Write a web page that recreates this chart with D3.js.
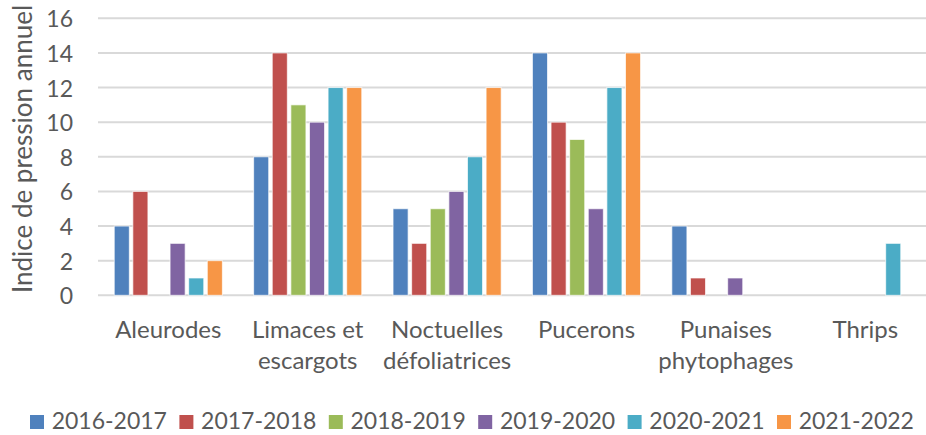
<!DOCTYPE html>
<html>
<head>
<meta charset="utf-8">
<script src="https://cdn.jsdelivr.net/npm/d3@7"></script>
<style>
  body { margin: 0; background: #fff; }
  svg { display: block; font-family: Lato, "Open Sans", sans-serif; }
</style>
</head>
<body>
<svg id="chart" width="926" height="435"></svg>
<script>
// categories (x axis, two-line labels)
var categories = ["Aleurodes", "Limaces et escargots", "Noctuelles défoliatrices", "Pucerons", "Punaises phytophages", "Thrips"];
var categoryLines = [["Aleurodes"], ["Limaces et", "escargots"], ["Noctuelles", "défoliatrices"], ["Pucerons"], ["Punaises", "phytophages"], ["Thrips"]];
var seasons = ["2016-2017", "2017-2018", "2018-2019", "2019-2020", "2020-2021", "2021-2022"];
var colors = ["#4F81BD", "#C0504D", "#9BBB59", "#8064A2", "#4BACC6", "#F79646"];

// one array per season, in category order
var s2016 = [4, 8, 5, 14, 4, 0];
var s2017 = [6, 14, 3, 10, 1, 0];
var s2018 = [0, 11, 5, 9, 0, 0];
var s2019 = [3, 10, 6, 5, 1, 0];
var s2020 = [1, 12, 8, 12, 0, 3];
var s2021 = [2, 12, 12, 14, 0, 0];
var seriesValues = [s2016, s2017, s2018, s2019, s2020, s2021];

var yTicks = [0, 2, 4, 6, 8, 10, 12, 14, 16];

var svg = d3.select("#chart");
var textColor = "#595959";

var x0 = d3.scaleBand().domain(categories).range([98.6, 935]).paddingInner(0).paddingOuter(0);
var x1 = d3.scaleBand().domain(seasons).range([0, x0.bandwidth()]).paddingInner(0.19).paddingOuter(0.84);
var y = d3.scaleLinear().domain([0, 16]).range([295.3, 18.3]);

// gridlines
svg.append("g")
    .selectAll("line")
    .data(yTicks)
    .enter().append("line")
    .attr("x1", 98)
    .attr("x2", 926)
    .attr("y1", function(d) { return y(d); })
    .attr("y2", function(d) { return y(d); })
    .style("stroke", "#d9d9d9")
    .style("stroke-width", 2);

// y axis labels
var yAxis = d3.axisLeft(y).tickValues(yTicks).tickSize(0).tickPadding(0);
var ya = svg.append("g").attr("transform", "translate(73,0)").call(yAxis);
ya.select(".domain").remove();
ya.selectAll("text")
    .attr("dy", "0.37em")
    .style("font-family", "Lato, sans-serif")
    .style("font-size", "23px")
    .style("fill", textColor);

// bars
var rows = [];
seriesValues.forEach(function(vals, si) {
    vals.forEach(function(v, ci) {
        rows.push({cat: categories[ci], season: seasons[si], value: v, color: colors[si]});
    });
});

svg.append("g")
    .selectAll("rect")
    .data(rows.filter(function(d) { return d.value > 0; }))
    .enter().append("rect")
    .attr("x", function(d) { return x0(d.cat) + x1(d.season); })
    .attr("width", x1.bandwidth())
    .attr("y", function(d) { return y(d.value); })
    .attr("height", function(d) { return y(0) - y(d.value); })
    .style("fill", function(d) { return d.color; })
    .style("stroke", "#fff")
    .style("stroke-opacity", 0.7)
    .style("stroke-width", 1);

// x labels
var xl = svg.append("g");
categoryLines.forEach(function(lines, i) {
    var t = xl.append("text")
        .attr("x", x0(categories[i]) + x0.bandwidth() / 2)
        .attr("y", 338)
        .attr("text-anchor", "middle")
        .style("font-size", "24px")
        .style("fill", textColor);
    lines.forEach(function(l, j) {
        t.append("tspan")
            .attr("x", x0(categories[i]) + x0.bandwidth() / 2)
            .attr("dy", j === 0 ? 0 : 31)
            .text(l);
    });
});

// y title
svg.append("text")
    .attr("transform", "translate(32,149) rotate(-90)")
    .attr("text-anchor", "middle")
    .style("font-size", "26px")
    .style("fill", textColor)
    .text("Indice de pression annuel");

// legend
var leg = svg.append("g")
    .selectAll("g")
    .data(seasons)
    .enter().append("g")
    .attr("transform", function(d, i) { return "translate(" + (30 + i * 149.4) + ",415)"; });
leg.append("rect")
    .attr("width", 14)
    .attr("height", 14)
    .style("fill", function(d, i) { return colors[i]; });
leg.append("text")
    .attr("x", 21.7)
    .attr("y", 14)
    .style("font-size", "23px")
    .style("fill", textColor)
    .text(function(d) { return d; });
</script>
</body>
</html>
